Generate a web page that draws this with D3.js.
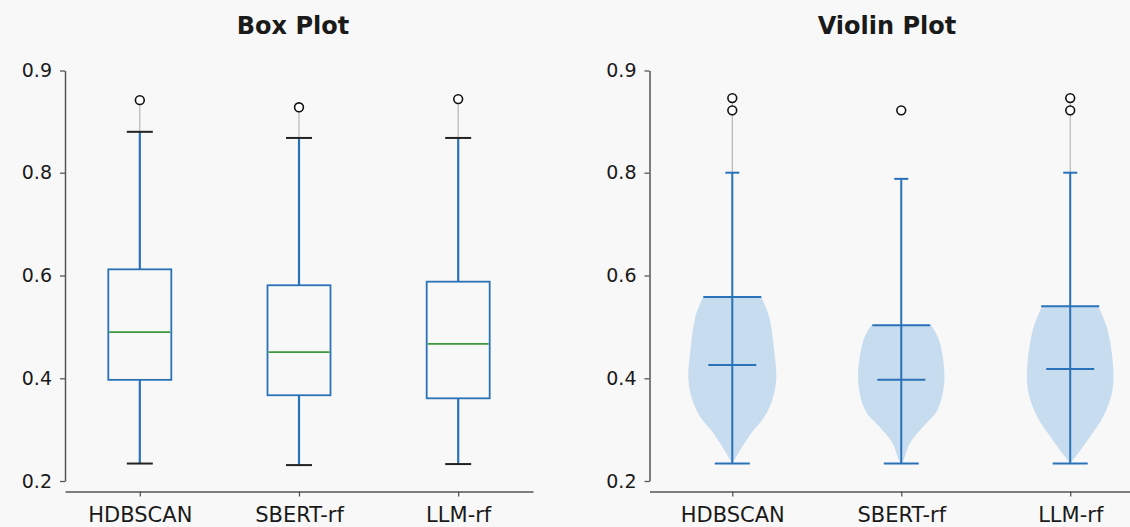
<!DOCTYPE html>
<html>
<head>
<meta charset="utf-8">
<script src="https://cdn.jsdelivr.net/npm/d3@7"></script>
<style>
  body { margin: 0; background: #f8f8f8; }
  svg { display: block; }
  text { font-family: "DejaVu Sans", sans-serif; fill: #1a1a1a; }
</style>
</head>
<body>
<div id="chart"></div>
<script>
// ---- data ----
var categories = ["HDBSCAN", "SBERT-rf", "LLM-rf"];
var yTicks = [0.2, 0.4, 0.6, 0.8, 0.9];

// box plot stats
var boxLow = [0.234, 0.231, 0.233];
var boxQ1 = [0.397, 0.367, 0.361];
var boxMedian = [0.490, 0.451, 0.467];
var boxQ3 = [0.612, 0.581, 0.588];
var boxHigh = [0.840, 0.834, 0.834];
var boxOutliers = [[0.871], [0.864], [0.872]];

// violin plot stats
var violinLow = [0.234, 0.234, 0.234];
var violinMid = [0.426, 0.397, 0.418];
var violinTop = [0.558, 0.503, 0.540];
var violinHigh = [0.800, 0.788, 0.800];
var violinOutliers = [[0.873, 0.861], [0.861], [0.873, 0.861]];
var violinTail = [true, false, true];

// violin outline: values and relative density
var violinValues = [
  [0.234, 0.260, 0.293, 0.325, 0.358, 0.400, 0.455, 0.519, 0.558],
  [0.234, 0.240, 0.274, 0.306, 0.338, 0.397, 0.474, 0.503],
  [0.234, 0.254, 0.286, 0.325, 0.372, 0.416, 0.494, 0.540]
];
var violinDensity = [
  [0.00, 0.18, 0.43, 0.73, 0.91, 1.00, 0.95, 0.84, 0.66],
  [0.00, 0.05, 0.20, 0.50, 0.82, 0.98, 0.86, 0.68],
  [0.00, 0.18, 0.45, 0.75, 0.95, 0.98, 0.85, 0.64]
];

// ---- layout ----
var width = 1130, height = 527;
var blue = "#2a72b8", green = "#3a9a3a";

var svg = d3.select("#chart").append("svg")
  .attr("width", width)
  .attr("height", height);

// ticks are evenly spaced in the picture even though 0.9 follows 0.8
var y = d3.scaleLinear()
  .domain(yTicks)
  .range([481, 378.3, 275.5, 172.7, 70.5]);

function drawAxes(g, x, title, titleX) {
  var xAxis = g.append("g")
    .attr("transform", "translate(0, 491.5)")
    .call(d3.axisBottom(x).tickSize(5).tickSizeOuter(0).tickPadding(11));
  var yAxis = g.append("g")
    .attr("transform", `translate(${x.range()[0]}, 0)`)
    .call(d3.axisLeft(y).tickValues(yTicks).tickFormat(d3.format(".1f"))
      .tickSize(5).tickSizeOuter(0).tickPadding(8));

  [xAxis, yAxis].forEach(function(a) {
    a.select(".domain").attr("stroke", "#555").attr("stroke-width", 1.5);
    a.selectAll(".tick line").attr("stroke", "#555").attr("stroke-width", 1.3);
  });
  xAxis.selectAll("text").style("font-size", "21px").attr("fill", "#1a1a1a");
  yAxis.selectAll("text").style("font-size", "19px").attr("fill", "#1a1a1a");

  g.append("text")
    .attr("x", titleX)
    .attr("y", 34)
    .attr("text-anchor", "middle")
    .style("font-size", "24px")
    .style("font-weight", "bold")
    .text(title);
}

function drawOutliers(g, cx, list) {
  list.forEach(function(v) {
    g.append("circle")
      .attr("cx", cx)
      .attr("cy", y(v))
      .attr("r", 4.4)
      .attr("fill", "#fff")
      .attr("stroke", "#111")
      .attr("stroke-width", 1.6);
  });
}

function hline(g, x1, x2, v, color, sw) {
  g.append("line")
    .attr("x1", x1).attr("x2", x2)
    .attr("y1", y(v)).attr("y2", y(v))
    .attr("stroke", color).attr("stroke-width", sw);
}

function vline(g, cx, v1, v2, color, sw) {
  g.append("line")
    .attr("x1", cx).attr("x2", cx)
    .attr("y1", y(v1)).attr("y2", y(v2))
    .attr("stroke", color).attr("stroke-width", sw);
}

// ---- Box plot ----
var xBox = d3.scalePoint().domain(categories).range([65, 533]).padding(0.47);
var boxPanel = svg.append("g");
drawAxes(boxPanel, xBox, "Box Plot", 293);

var boxW = 63, capW = 26;
categories.forEach(function(c, i) {
  var cx = xBox(c);
  var g = boxPanel.append("g");
  // faint tail to outliers
  vline(g, cx, boxHigh[i], d3.max(boxOutliers[i]), "#aaa", 1);
  // whiskers
  vline(g, cx, boxQ3[i], boxHigh[i], blue, 2.2);
  vline(g, cx, boxLow[i], boxQ1[i], blue, 2.2);
  hline(g, cx - capW / 2, cx + capW / 2, boxHigh[i], "#222", 2);
  hline(g, cx - capW / 2, cx + capW / 2, boxLow[i], "#222", 2);
  // box
  g.append("rect")
    .attr("x", cx - boxW / 2)
    .attr("y", y(boxQ3[i]))
    .attr("width", boxW)
    .attr("height", y(boxQ1[i]) - y(boxQ3[i]))
    .attr("fill", "none")
    .attr("stroke", blue)
    .attr("stroke-width", 1.8);
  hline(g, cx - boxW / 2 + 1, cx + boxW / 2 - 1, boxMedian[i], green, 1.8);
  drawOutliers(g, cx, boxOutliers[i]);
});

// ---- Violin plot ----
var xViolin = d3.scalePoint().domain(categories).range([649.5, 1153]).padding(0.49);
var violinPanel = svg.append("g");
drawAxes(violinPanel, xViolin, "Violin Plot", 887);

var halfW = d3.scaleLinear().domain([0, 1]).range([0, 44]);

categories.forEach(function(c, i) {
  var cx = xViolin(c);
  var g = violinPanel.append("g");
  var pts = violinValues[i].map(function(v, k) { return [v, violinDensity[i][k]]; });

  var area = d3.area()
    .curve(d3.curveCatmullRom)
    .y(function(d) { return y(d[0]); })
    .x0(function(d) { return cx - halfW(d[1]); })
    .x1(function(d) { return cx + halfW(d[1]); });

  g.append("path")
    .datum(pts)
    .attr("d", area)
    .attr("fill", "#c8dcef")
    .attr("stroke", "none");

  if (violinTail[i]) vline(g, cx, violinHigh[i], d3.max(violinOutliers[i]), "#aaa", 1);
  vline(g, cx, violinLow[i], violinHigh[i], blue, 2);
  hline(g, cx - 29, cx + 29, violinTop[i], blue, 2);
  hline(g, cx - 24, cx + 24, violinMid[i], blue, 2);
  hline(g, cx - 17.5, cx + 17.5, violinLow[i], blue, 2);
  hline(g, cx - 7, cx + 7, violinHigh[i], blue, 2);
  drawOutliers(g, cx, violinOutliers[i]);
});
</script>
</body>
</html>
